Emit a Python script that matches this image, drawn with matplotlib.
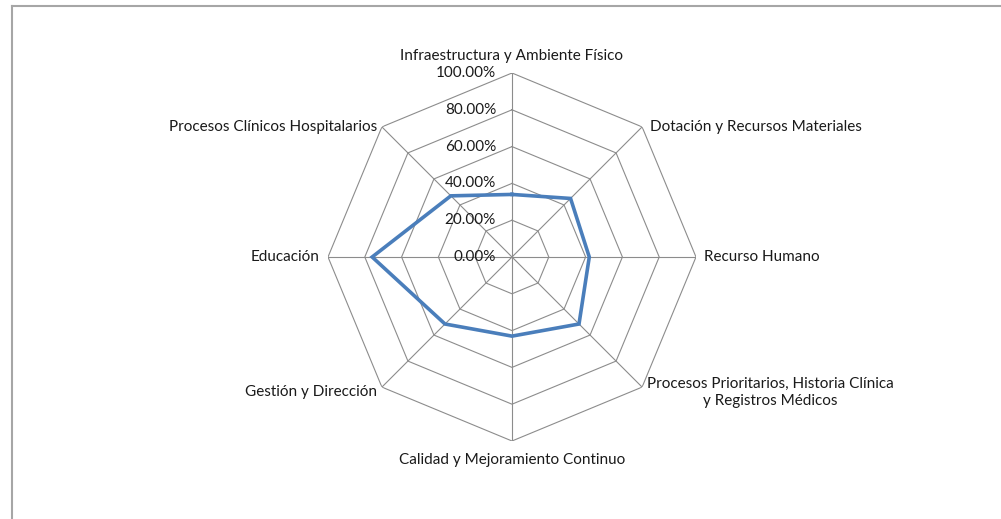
import numpy as np
import matplotlib
matplotlib.use("Agg")
import matplotlib.pyplot as plt
from matplotlib.lines import Line2D

categories = [
    "Infraestructura y Ambiente Físico",
    "Dotación y Recursos Materiales",
    "Recurso Humano",
    "Procesos Prioritarios, Historia Clínica\ny Registros Médicos",
    "Calidad y Mejoramiento Continuo",
    "Gestión y Dirección",
    "Educación",
    "Procesos Clínicos Hospitalarios",
]
values = [0.34, 0.45, 0.42, 0.515, 0.43, 0.515, 0.76, 0.47]
ticks = [0.0, 0.2, 0.4, 0.6, 0.8, 1.0]
tick_labels = ["0.00%", "20.00%", "40.00%", "60.00%", "80.00%", "100.00%"]

plt.rcParams['font.family'] = ['Lato', 'DejaVu Sans']

W, H = 1001, 519
fig = plt.figure(figsize=(W / 100, H / 100), dpi=100)
fig.patch.set_facecolor("white")

# chart border (only top and left visible)
fig.add_artist(Line2D([12 / W, 12 / W], [0, 1 - 6 / H], transform=fig.transFigure,
                      color="#a6a6a6", lw=1.5))
fig.add_artist(Line2D([12 / W, 1], [1 - 6 / H, 1 - 6 / H], transform=fig.transFigure,
                      color="#a6a6a6", lw=1.5))

cx, cy, R = 512, 257, 184
ax = fig.add_axes([(cx - R) / W, (H - cy - R) / H, 2 * R / W, 2 * R / H], projection="polar")
ax.set_theta_zero_location("N")
ax.set_theta_direction(-1)
ax.set_ylim(0, 1.0)
ax.axis("off")

n = len(categories)
theta = np.arange(n) * 2 * np.pi / n
theta_c = np.append(theta, theta[0])

grid_color = "#8c8c8c"
for t in ticks[1:]:
    ax.plot(theta_c, [t] * (n + 1), color=grid_color, lw=0.8, zorder=1)
for th in theta:
    ax.plot([th, th], [0, 1.0], color=grid_color, lw=0.8, zorder=1)

vals_c = values + [values[0]]
ax.plot(theta_c, vals_c, color="#4a7ebb", lw=2.6, zorder=3, solid_joinstyle="miter")

fs = 11
for t, lab in zip(ticks, tick_labels):
    ax.annotate(lab, xy=(0, t), xytext=(-16, 0), textcoords="offset pixels",
                ha="right", va="center", fontsize=fs, color="#1a1a1a")

offsets = [
    (0, 10, "center", "bottom"),
    (8, 0, "left", "center"),
    (8, 0, "left", "center"),
    (5, -5, "left", "center"),
    (0, -12, "center", "top"),
    (-5, -5, "right", "center"),
    (-8, 0, "right", "center"),
    (-5, 0, "right", "center"),
]
for th, lab, (dx, dy, ha, va) in zip(theta, categories, offsets):
    ax.annotate(lab, xy=(th, 1.0), xytext=(dx, dy), textcoords="offset pixels",
                ha=ha, va=va, fontsize=fs, color="#1a1a1a", multialignment="center",
                linespacing=1.3)

fig.savefig("out.png", dpi=100, facecolor="white")
